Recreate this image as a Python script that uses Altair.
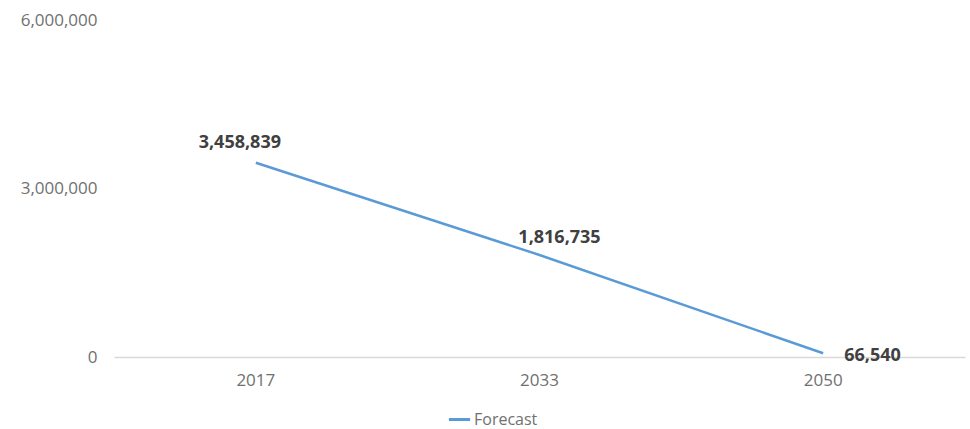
import altair as alt
import pandas as pd

years = ["2017", "2033", "2050"]
values = [3458839, 1816735, 66540]
series = ["Forecast", "Forecast", "Forecast"]

df = pd.DataFrame({"year": years, "value": values, "series": series})

FONT = "Open Sans"
BLUE = "#5B9BD5"
AXIS_GREY = "#707070"

base = alt.Chart(df).encode(
    x=alt.X("year:O", sort=years, title=None,
            scale=alt.Scale(paddingInner=0, paddingOuter=0, type="band"),
            axis=alt.Axis(labelAngle=0, domainColor="#D9D9D9", domainWidth=1.3,
                          ticks=False, labelPadding=15, labelFont=FONT,
                          labelFontSize=17, labelColor=AXIS_GREY)),
    y=alt.Y("value:Q", title=None,
            scale=alt.Scale(domain=[0, 6000000], nice=False),
            axis=alt.Axis(values=[0, 3000000, 6000000], format=",.0f", grid=False,
                          domain=False, ticks=False, labelPadding=17,
                          labelFont=FONT, labelFontSize=17, labelColor=AXIS_GREY)),
)

line = base.mark_line(strokeWidth=2.5).encode(
    color=alt.Color("series:N", title=None,
                    scale=alt.Scale(range=[BLUE]),
                    legend=alt.Legend(orient="none", legendX=333, legendY=387,
                                      symbolType="stroke", symbolStrokeWidth=3,
                                      symbolSize=450, labelFont=FONT,
                                      labelFontSize=16, labelColor=AXIS_GREY,
                                      labelOffset=2))
)

def lbl(year, dx, dy, align):
    return base.transform_filter(alt.datum.year == year).mark_text(
        font=FONT, fontSize=18, fontWeight="bold", color="#404040",
        dx=dx, dy=dy, align=align, baseline="middle"
    ).encode(text=alt.Text("value:Q", format=",.0f"))

chart = alt.layer(
    line,
    lbl("2017", -16, -20, "center"),
    lbl("2033", 20, -17, "center"),
    lbl("2050", 21, 3, "left"),
).properties(
    width=851, height=337,
    autosize=alt.AutoSizeParams(type="none"),
    padding={"left": 114, "top": 20, "right": 5, "bottom": 72},
).configure_view(stroke=None)

chart.save("out.html", embed_options={"renderer": "svg", "actions": False})
